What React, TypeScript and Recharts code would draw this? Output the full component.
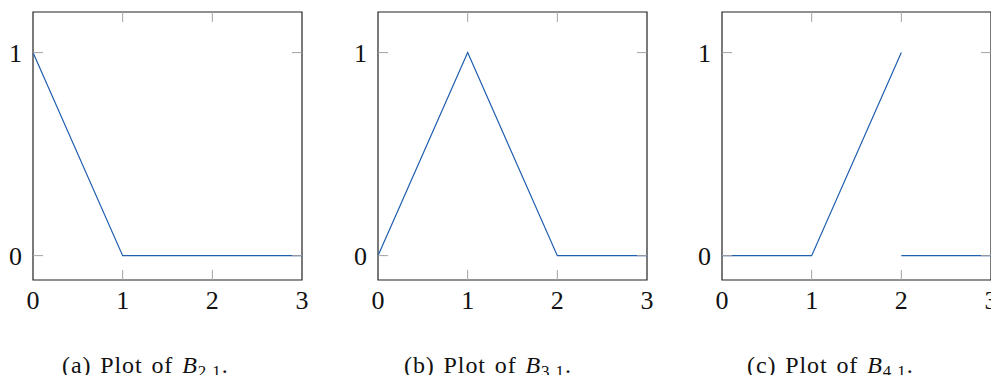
import React from 'react';
import { LineChart, Line, XAxis, YAxis, ReferenceArea } from 'recharts';

// shared axis setup for all three basis function plots
const xTicks = [0, 1, 2, 3];
const yTicks = [0, 1];
const yDomain = [-0.12, 1.2];

// knot values of each piecewise linear basis function
const b21X = [0, 1, 3];
const b21Y = [1, 0, 0];
const b31X = [0, 1, 2, 3];
const b31Y = [0, 1, 0, 0];
// null breaks the line at the jump at x = 2
const b41X = [0, 1, 2, 2, 2, 3];
const b41Y: (number | null)[] = [0, 0, 1, null, 0, 0];

const captionTags = ['a', 'b', 'c'];
const captionIndex = ['2,1', '3,1', '4,1'];

const zip = (xs: number[], ys: (number | null)[]) => xs.map((x, i) => ({ x, y: ys[i] }));
const panels = [zip(b21X, b21Y), zip(b31X, b31Y), zip(b41X, b41Y)];

const FONT = "'Liberation Serif', 'DejaVu Serif', serif";
const LINE_COLOR = '#1f5fae';
const TICK_COLOR = '#a3a3a3';
const PLOT_W = 269;
const PLOT_H = 268;
const TOP = 12;
const RIGHT = 16;
const Y_AXIS_W = 34;
const X_AXIS_H = 40;
const TICK_LEN = 10;
const TICK_GAP = 11;
const boxLefts = [33, 378, 722];
const captionStarts = [62, 404, 747];

const XTick = (props: any) => {
  const { x, y, payload } = props;
  const bottom = y - TICK_GAP;
  const top = bottom - PLOT_H;
  const inner = payload.value !== xTicks[0] && payload.value !== xTicks[xTicks.length - 1];
  return (
    <g>
      {inner && (
        <>
          <line x1={x} x2={x} y1={bottom} y2={bottom - TICK_LEN} stroke={TICK_COLOR} />
          <line x1={x} x2={x} y1={top} y2={top + TICK_LEN} stroke={TICK_COLOR} />
        </>
      )}
      <text x={x} y={y + 18} textAnchor="middle" style={{ fontFamily: FONT, fontSize: 26 }} fill="#111">
        {payload.value}
      </text>
    </g>
  );
};

const YTick = (props: any) => {
  const { x, y, payload } = props;
  const left = x + TICK_GAP;
  const right = left + PLOT_W;
  return (
    <g>
      <line x1={left} x2={left + TICK_LEN} y1={y} y2={y} stroke={TICK_COLOR} />
      <line x1={right} x2={right - TICK_LEN} y1={y} y2={y} stroke={TICK_COLOR} />
      <text x={x} y={y + 9} textAnchor="end" style={{ fontFamily: FONT, fontSize: 26 }} fill="#111">
        {payload.value}
      </text>
    </g>
  );
};

const Panel = ({ data, left }: { data: { x: number; y: number | null }[]; left: number }) => (
  <div style={{ position: 'absolute', left: left - Y_AXIS_W, top: 0 }}>
    <LineChart
      width={Y_AXIS_W + PLOT_W + RIGHT}
      height={TOP + PLOT_H + X_AXIS_H}
      data={data}
      margin={{ top: TOP, right: RIGHT, left: 0, bottom: 0 }}
    >
      <XAxis
        dataKey="x"
        type="number"
        domain={[0, 3]}
        ticks={xTicks}
        allowDataOverflow
        axisLine={false}
        tickLine={false}
        tickSize={0}
        tickMargin={TICK_GAP}
        height={X_AXIS_H}
        tick={<XTick />}
        interval={0}
      />
      <YAxis
        type="number"
        domain={yDomain}
        ticks={yTicks}
        allowDataOverflow
        axisLine={false}
        tickLine={false}
        tickSize={0}
        tickMargin={TICK_GAP}
        width={Y_AXIS_W}
        tick={<YTick />}
        interval={0}
      />
      <Line
        type="linear"
        dataKey="y"
        stroke={LINE_COLOR}
        strokeWidth={1.2}
        dot={false}
        activeDot={false}
        connectNulls={false}
        isAnimationActive={false}
      />
      <ReferenceArea
        x1={0}
        x2={3}
        y1={yDomain[0]}
        y2={yDomain[1]}
        fill="none"
        stroke="#222"
        strokeWidth={1.2}
        ifOverflow="extendDomain"
      />
    </LineChart>
  </div>
);

export default function App() {
  return (
    <div style={{ position: 'relative', margin: -8, width: 999, height: 383, background: '#fff', overflow: 'hidden' }}>
      {panels.map((data, i) => (
        <Panel key={i} data={data} left={boxLefts[i]} />
      ))}
      <svg width={999} height={383} style={{ position: 'absolute', left: 0, top: 0, pointerEvents: 'none' }}>
        {captionTags.map((tag, i) => (
          <text
            key={tag}
            x={captionStarts[i]}
            y={373}
            style={{ fontFamily: FONT, fontSize: 24, letterSpacing: 0.9, wordSpacing: 2 }}
            fill="#111"
          >
            ({tag}) Plot of <tspan fontStyle="italic">B</tspan>
            <tspan style={{ fontSize: 17 }} dy={4}>{captionIndex[i]}</tspan>
            <tspan dy={-4}>.</tspan>
          </text>
        ))}
      </svg>
    </div>
  );
}
